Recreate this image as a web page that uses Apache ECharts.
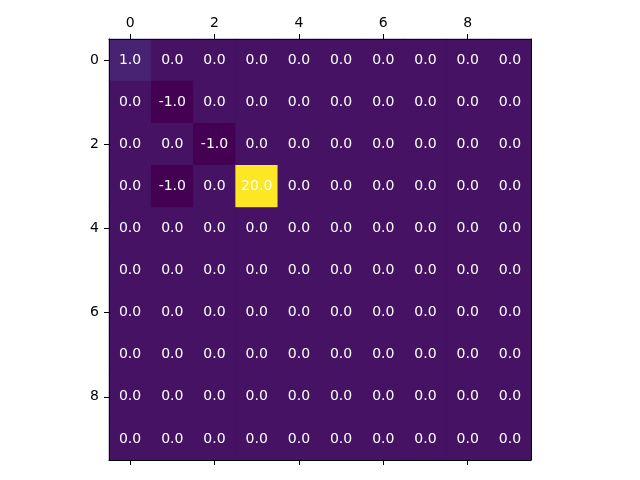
<!DOCTYPE html>
<html>
<head>
<meta charset="utf-8">
<script src="https://cdn.jsdelivr.net/npm/echarts@6/dist/echarts.min.js"></script>
<style>
  html, body { margin: 0; padding: 0; background: #fff; }
  #chart { width: 640px; height: 480px; }
</style>
</head>
<body>
<div id="chart"></div>
<script>
// matrix values, row by row (row 0 at top)
const rowIdx = ["0", "1", "2", "3", "4", "5", "6", "7", "8", "9"];
const colIdx = ["0", "1", "2", "3", "4", "5", "6", "7", "8", "9"];
const matrix = [
    [1, 0, 0, 0, 0, 0, 0, 0, 0, 0],
    [0, -1, 0, 0, 0, 0, 0, 0, 0, 0],
    [0, 0, -1, 0, 0, 0, 0, 0, 0, 0],
    [0, -1, 0, 20, 0, 0, 0, 0, 0, 0],
    [0, 0, 0, 0, 0, 0, 0, 0, 0, 0],
    [0, 0, 0, 0, 0, 0, 0, 0, 0, 0],
    [0, 0, 0, 0, 0, 0, 0, 0, 0, 0],
    [0, 0, 0, 0, 0, 0, 0, 0, 0, 0],
    [0, 0, 0, 0, 0, 0, 0, 0, 0, 0],
    [0, 0, 0, 0, 0, 0, 0, 0, 0, 0]
];
const viridis = ["#440154", "#482475", "#414487", "#355f8d", "#2a788e", "#21918c",
    "#22a884", "#44bf70", "#7ad151", "#bddf26", "#fde725"];

const cells = [];
matrix.forEach((row, r) => {
    row.forEach((v, c) => cells.push([c, r, v]));
});

const font = "DejaVu Sans";
const evenOnly = (i) => i % 2 === 0;
const tick = { show: true, alignWithLabel: true, interval: evenOnly, length: 5, lineStyle: { color: "#000" } };
const spine = { show: true, lineStyle: { color: "#000", width: 1 } };

const chart = echarts.init(document.getElementById("chart"));
chart.setOption({
    animation: false,
    grid: {
        left: 109,
        top: 39,
        width: 422,
        height: 421,
        show: true,
        // same as the 0-value cells so the seams between cells don't show
        backgroundColor: "#461264",
        borderWidth: 0
    },
    visualMap: {
        show: false,
        min: -1,
        max: 20,
        dimension: 2,
        inRange: { color: viridis }
    },
    xAxis: [
        {
            type: "category",
            data: colIdx,
            position: "top",
            z: 10,
            axisLine: spine,
            axisTick: tick,
            axisLabel: { interval: evenOnly, margin: 9, color: "#000", fontFamily: font, fontSize: 14 },
            splitLine: { show: false }
        },
        {
            type: "category",
            data: colIdx,
            position: "bottom",
            z: 10,
            axisLine: spine,
            axisTick: tick,
            axisLabel: { show: false },
            splitLine: { show: false }
        }
    ],
    yAxis: [
        {
            type: "category",
            data: rowIdx,
            inverse: true,
            position: "left",
            z: 10,
            axisLine: spine,
            axisTick: tick,
            axisLabel: { interval: evenOnly, margin: 10, color: "#000", fontFamily: font, fontSize: 14 },
            splitLine: { show: false }
        },
        {
            type: "category",
            data: rowIdx,
            inverse: true,
            position: "right",
            z: 10,
            axisLine: spine,
            axisTick: { show: false },
            axisLabel: { show: false },
            splitLine: { show: false }
        }
    ],
    series: [{
        type: "heatmap",
        data: cells,
        label: {
            show: true,
            color: "#fff",
            fontFamily: font,
            fontSize: 14,
            formatter: (p) => p.value[2].toFixed(1)
        },
        itemStyle: { borderWidth: 0 },
        emphasis: { disabled: true }
    }]
});
</script>
</body>
</html>
